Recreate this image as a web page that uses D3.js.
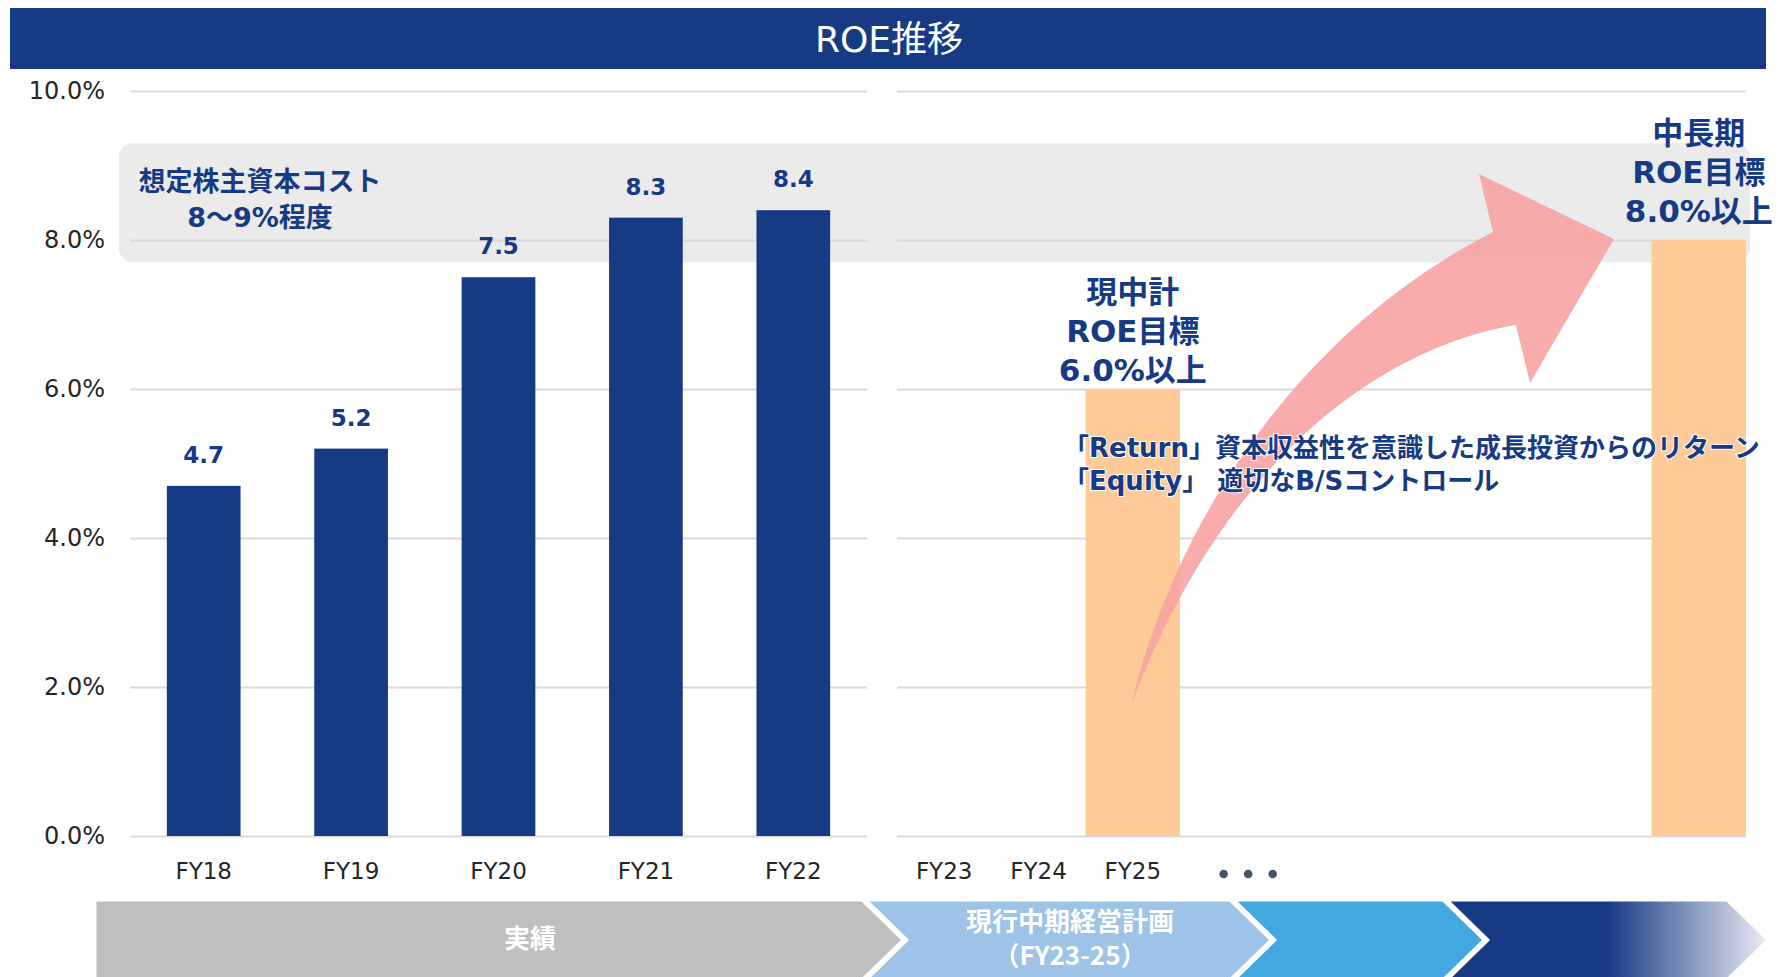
<!DOCTYPE html>
<html>
<head>
<meta charset="utf-8">
<script src="https://d3js.org/d3.v7.min.js"></script>
<style>
  body { margin: 0; background: #fff; }
  text { font-family: "DejaVu Sans", "Noto Sans CJK JP", sans-serif; }
  .cjk { font-family: "Noto Sans CJK JP", sans-serif; }
</style>
</head>
<body>
<script>
// ---- data ----
var pastYears = ["FY18", "FY19", "FY20", "FY21", "FY22"];
var pastRoe = [4.7, 5.2, 7.5, 8.3, 8.4];

// right panel slots: three plan years, the dots, empty space, long-term target
var planSlots = ["FY23", "FY24", "FY25", "dots", "s5", "s6", "s7", "s8", "LT"];
var planLabels = ["FY23", "FY24", "FY25"];
var targetSlots = ["FY25", "LT"];
var targetRoe = [6.0, 8.0];
var targetText = [["現中計", "ROE目標", "6.0%以上"], ["中長期", "ROE目標", "8.0%以上"]];

var yTicks = [0, 2, 4, 6, 8, 10];
var costBand = [7.7, 9.3];
var costText = ["想定株主資本コスト", "8～9%程度"];
var policyText = ["「Return」資本収益性を意識した成長投資からのリターン", "「Equity」 適切なB/Sコントロール"];
var phaseText = [["実績"], ["現行中期経営計画", "（FY23-25）"], [], []];

var navy = "#173a84", orange = "#fdca98";

var svg = d3.select("body").append("svg")
    .attr("width", 1781)
    .attr("height", 977);

// title bar
svg.append("rect")
    .attr("x", 10).attr("y", 8)
    .attr("width", 1756).attr("height", 61)
    .attr("fill", navy);
svg.append("text")
    .attr("x", 889).attr("y", 52)
    .attr("text-anchor", "middle")
    .attr("fill", "#fff")
    .style("font-size", "36px")
    .text("ROE推移");

// scales
var y = d3.scaleLinear().domain([0, 10]).range([836, 91]);
var xPast = d3.scaleBand().domain(pastYears).range([130, 867]).paddingInner(0.5).paddingOuter(0.25);
var xPlan = d3.scaleBand().domain(planSlots).range([897, 1746]).padding(0);

// cost of equity band
svg.append("rect")
    .attr("x", 119).attr("width", 1750 - 119)
    .attr("y", y(costBand[1]))
    .attr("height", y(costBand[0]) - y(costBand[1]))
    .attr("rx", 14)
    .attr("fill", "#ebebeb");

// gridlines + y labels (left panel)
var gl = svg.append("g")
    .attr("transform", "translate(130,0)")
    .call(d3.axisLeft(y).tickValues(yTicks)
        .tickSizeInner(-(867 - 130)).tickSizeOuter(0).tickPadding(25)
        .tickFormat(function(d) { return d.toFixed(1) + "%"; }));
gl.select(".domain").remove();
gl.selectAll("line").attr("stroke", "#d9d9d9").attr("stroke-width", 2);
gl.selectAll("text").attr("fill", "#262626").style("font-size", "24px");

// gridlines (right panel)
var gr = svg.append("g")
    .attr("transform", "translate(897,0)")
    .call(d3.axisLeft(y).tickValues(yTicks)
        .tickSizeInner(-(1746 - 897)).tickSizeOuter(0).tickFormat(""));
gr.select(".domain").remove();
gr.selectAll("line").attr("stroke", "#d9d9d9").attr("stroke-width", 2);

// past bars
var past = pastYears.map(function(k, i) { return {k: k, v: pastRoe[i]}; });
svg.append("g").selectAll("rect")
    .data(past).join("rect")
    .attr("x", function(d) { return xPast(d.k); })
    .attr("width", xPast.bandwidth())
    .attr("y", function(d) { return y(d.v); })
    .attr("height", function(d) { return y(0) - y(d.v); })
    .attr("fill", navy);

svg.append("g").selectAll("text")
    .data(past).join("text")
    .attr("x", function(d) { return xPast(d.k) + xPast.bandwidth() / 2; })
    .attr("y", function(d) { return y(d.v) - 23; })
    .attr("text-anchor", "middle")
    .attr("fill", navy)
    .style("font-size", "23px").style("font-weight", "bold")
    .text(function(d) { return d3.format(".1f")(d.v); });

svg.append("g").selectAll("text")
    .data(pastYears).join("text")
    .attr("x", function(d) { return xPast(d) + xPast.bandwidth() / 2; })
    .attr("y", 879)
    .attr("text-anchor", "middle")
    .attr("fill", "#262626")
    .style("font-size", "23px")
    .text(function(d) { return d; });

// target bars
var targets = targetSlots.map(function(k, i) { return {k: k, v: targetRoe[i], lines: targetText[i]}; });
svg.append("g").selectAll("rect")
    .data(targets).join("rect")
    .attr("x", function(d) { return xPlan(d.k); })
    .attr("width", xPlan.bandwidth())
    .attr("y", function(d) { return y(d.v); })
    .attr("height", function(d) { return y(0) - y(d.v); })
    .attr("fill", orange);

svg.append("g").selectAll("text")
    .data(planLabels).join("text")
    .attr("x", function(d) { return xPlan(d) + xPlan.bandwidth() / 2; })
    .attr("y", 879)
    .attr("text-anchor", "middle")
    .attr("fill", "#262626")
    .style("font-size", "23px")
    .text(function(d) { return d; });

// the "..." after FY25
svg.append("g").selectAll("circle")
    .data([-1, 0, 1]).join("circle")
    .attr("cx", function(d) { return xPlan("dots") + xPlan.bandwidth() / 2 + 21 + d * 24.5; })
    .attr("cy", 874)
    .attr("r", 4.3)
    .attr("fill", "#44546a");

// big pink arrow
var p = d3.path();
p.moveTo(1132, 703);
p.bezierCurveTo(1165, 560, 1272, 345, 1493, 232);
p.lineTo(1479, 174);
p.lineTo(1614, 239);
p.lineTo(1530, 383);
p.lineTo(1516, 325);
p.bezierCurveTo(1420, 340, 1240, 420, 1132, 703);
p.closePath();
svg.append("path")
    .attr("d", p.toString())
    .attr("fill", "#f8a3a3")
    .attr("opacity", 0.9);

// target annotations
var tOffset = [8, 18];
targets.forEach(function(t, i) {
  var cx = xPlan(t.k) + xPlan.bandwidth() / 2;
  var base = y(t.v) - tOffset[i];
  svg.append("g").selectAll("text")
      .data(t.lines).join("text")
      .attr("x", cx)
      .attr("y", function(d, j) { return base - (2 - j) * 39; })
      .attr("text-anchor", "middle")
      .attr("fill", navy)
      .style("font-size", "31px").style("font-weight", "bold")
      .text(function(d) { return d; });
});

// cost of equity label
svg.append("g").selectAll("text")
    .data(costText).join("text")
    .attr("x", 260)
    .attr("y", function(d, i) { return 191 + i * 36; })
    .attr("text-anchor", "middle")
    .attr("fill", navy)
    .style("font-size", "27px").style("font-weight", "bold")
    .text(function(d) { return d; });

// Return / Equity text
svg.append("g").selectAll("text")
    .data(policyText).join("text")
    .attr("x", 1063)
    .attr("y", function(d, i) { return 457 + i * 33; })
    .attr("fill", navy)
    .attr("stroke", "#fff").attr("stroke-width", 2).attr("paint-order", "stroke")
    .style("font-size", "26px").style("font-weight", "bold")
    .text(function(d) { return d; });

// phase chevrons at the bottom
var defs = svg.append("defs");
var grad = defs.append("linearGradient").attr("id", "fade").attr("x1", 0).attr("x2", 1).attr("y1", 0).attr("y2", 0);
grad.append("stop").attr("offset", 0).attr("stop-color", navy);
grad.append("stop").attr("offset", 0.5).attr("stop-color", navy);
grad.append("stop").attr("offset", 1).attr("stop-color", "#eceef4");

var segX = [[95, 862], [866, 1230], [1234, 1443], [1447, 1727]];
var segFill = ["#bfbfbf", "#9dc3e6", "#41a9e0", "url(#fade)"];
var dep = 41, top0 = 900, mid = 940, bot = 980;
segX.forEach(function(s, i) {
  var pts = [[s[0], top0], [s[1], top0], [s[1] + dep, mid], [s[1], bot], [s[0], bot]];
  if (i > 0) pts.push([s[0] + dep, mid]);
  svg.append("polygon")
      .attr("points", pts.map(function(q) { return q.join(","); }).join(" "))
      .attr("fill", segFill[i])
      .attr("stroke", "#fff").attr("stroke-width", 3);
});

var phaseX = [530, 1070];
var phaseY = [[948], [931, 965]];
phaseText.forEach(function(lines, i) {
  lines.forEach(function(l, j) {
    svg.append("text")
        .attr("class", "cjk")
        .attr("x", phaseX[i])
        .attr("y", phaseY[i][j])
        .attr("text-anchor", "middle")
        .attr("fill", "#fff")
        .style("font-size", "26px").style("font-weight", "bold")
        .text(l);
  });
});
</script>
</body>
</html>
